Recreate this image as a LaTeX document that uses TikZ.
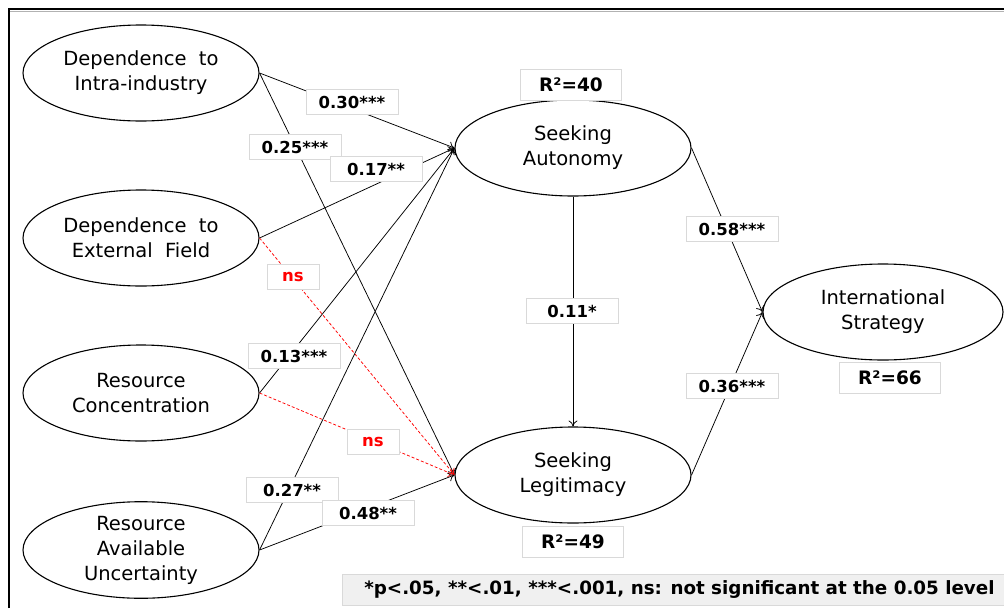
\documentclass[tikz,border=0pt]{standalone}
\usepackage{fontspec}
\setmainfont{DejaVu Sans}
\usetikzlibrary{shapes.geometric,arrows.meta}
\begin{document}
\begin{tikzpicture}[x=1pt,y=-1pt,
  var/.style={ellipse,draw,line width=1.1pt,minimum width=236pt,minimum height=96pt,inner sep=0pt,align=center,font=\fontsize{19.5}{25}\selectfont},
  lab/.style={fill=white,draw=black!15,line width=0.8pt,minimum width=92pt,minimum height=25pt,inner sep=0pt,font=\bfseries\fontsize{16.5}{18}\selectfont},
  rsq/.style={lab,minimum width=101pt,minimum height=31pt,font=\bfseries\fontsize{18.5}{20}\selectfont},
  arr/.style={-{To[length=6pt,width=9pt]},line width=0.75pt},
  nsarr/.style={arr,red,dash pattern=on 3pt off 2pt},
]
\useasboundingbox (0,0) rectangle (1004,608);
% frame
\draw[black!30,line width=1.5pt] (10,11.5) -- (1004,11.5);
\draw[line width=2pt] (9,608) -- (9,9) -- (1004,9);

% variables
\node[var] (E1) at (141,73) {Dependence\ \ to\\Intra-industry};
\node[var] (E2) at (141,238) {Dependence\ \ to\\External\ \ Field};
\node[var] (E3) at (141,393) {Resource\\Concentration};
\node[var] (E4) at (141,550) {Resource\\Available\\Uncertainty};
\node[var] (SA) at (573,148) {Seeking\\Autonomy};
\node[var] (SL) at (573,475) {Seeking\\Legitimacy};
\node[var,minimum width=240pt] (IS) at (883,312) {International\\Strategy};

% paths
\draw[arr] (E1.east) -- (SA.west);
\draw[arr] (E1.east) -- (SL.west);
\draw[arr] (E2.east) -- (SA.west);
\draw[nsarr] (E2.east) -- (SL.west);
\draw[arr] (E3.east) -- (SA.west);
\draw[nsarr] (E3.east) -- (SL.west);
\draw[arr] (E4.east) -- (SA.west);
\draw[arr] (E4.east) -- (SL.west);
\draw[arr] (SA.south) -- (SL.north);
\draw[arr] (SA.east) -- (IS.west);
\draw[arr] (SL.east) -- (IS.west);

% coefficient labels
\node[lab] (l30) at (352,102) {0.30***};
\node[lab] (l25) at (295,147) {0.25***};
\node[lab] (l17) at (376,169) {0.17**};
\node[lab,minimum width=52pt,text=red] (ns1) at (293,277) {ns};
\node[lab] (l13) at (294,356) {0.13***};
\node[lab,minimum width=52pt,text=red] (ns2) at (373,442) {ns};
\node[lab] (l27) at (292,490) {0.27**};
\node[lab] (l48) at (368,513) {0.48**};
\node[lab] (l11) at (572,311) {0.11*};
\node[lab] (l58) at (732,229) {0.58***};
\node[lab] (l36) at (732,386) {0.36***};

% R squared
\node[rsq] (r40) at (571,85) {R²=40};
\node[rsq] (r49) at (573,542) {R²=49};
\node[rsq] (r66) at (890,378) {R²=66};

% footnote
\node[draw=black!15,fill=black!6,line width=0.8pt,anchor=west,minimum height=31pt,minimum width=670pt,inner sep=0pt,font=\bfseries\fontsize{18.3}{20}\selectfont] (note) at (342,590) {\hspace*{4pt}*p<.05, **<.01, ***<.001, ns: not significant at the 0.05 level\hfill};
\end{tikzpicture}
\end{document}
